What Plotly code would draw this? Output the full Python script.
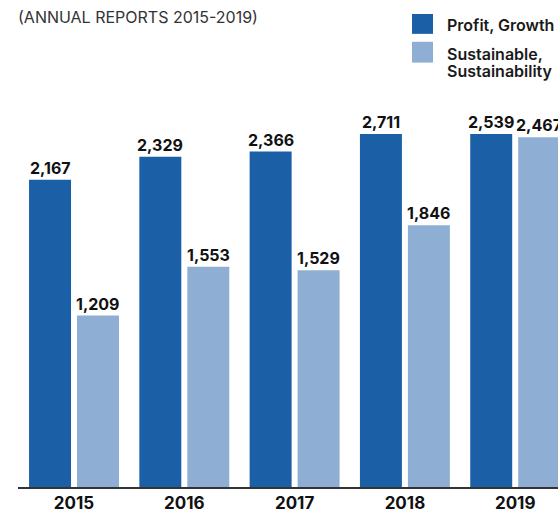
import plotly.graph_objects as go

years = ["2015", "2016", "2017", "2018", "2019"]
profit_growth = [2167, 2329, 2366, 2711, 2539]
sustainable = [1209, 1553, 1529, 1846, 2467]
series_names = ["Profit, Growth", "Sustainable,<br>Sustainability"]
colors = ["#1b60a6", "#8eafd3"]
title_text = "(ANNUAL REPORTS 2015-2019)"

W, H = 558, 513
ML, MR, MT, MB = 18, 0, 134, 23
Y_MAX = 2490
BARGAP = 0.13
FONT = "Inter, 'Open Sans', sans-serif"

PW = W - ML - MR
PH = H - MT - MB


def px_x(p):
    return (p - ML) / PW


def px_y(p):
    return (H - MB - p) / PH


fig = go.Figure()
for vals, name, col in zip([profit_growth, sustainable], series_names, colors):
    fig.add_trace(go.Bar(x=years, y=vals, name=name, marker_color=col,
                         marker_line_width=0, showlegend=False, cliponaxis=True,
                         hoverinfo="skip"))

# value labels (annotations so they remain visible when bars are clipped)
offset = (1 - BARGAP) / 4
annotations = []
for si, vals in enumerate([profit_growth, sustainable]):
    sign = -1 if si == 0 else 1
    for i, v in enumerate(vals):
        annotations.append(dict(
            x=i + sign * offset, y=min(v, Y_MAX), xref="x", yref="y",
            text=f"{v:,}", showarrow=False, yanchor="bottom", xanchor="center",
            yshift=0,
            font=dict(family=FONT, size=16, color="#111111", weight="bold"),
        ))

# legend (custom, larger swatches)
shapes = []
sw_rows = [(13, 33), (41, 62)]
for (t, b), col in zip(sw_rows, colors):
    shapes.append(dict(type="rect", xref="paper", yref="paper",
                       x0=px_x(412), x1=px_x(433), y0=px_y(b), y1=px_y(t),
                       fillcolor=col, line_width=0, layer="above"))
legend_lines = [("Profit, Growth", 24), ("Sustainable,", 53), ("Sustainability", 70)]
for txt, yc in legend_lines:
    annotations.append(dict(
        x=px_x(445), y=px_y(yc), xref="paper", yref="paper", text=txt,
        showarrow=False, xanchor="left", yanchor="middle", align="left",
        font=dict(family=FONT, size=16, color="#1a1a1a", weight=600),
    ))

fig.update_layout(
    width=W, height=H,
    margin=dict(l=ML, r=MR, t=MT, b=MB, pad=0),
    paper_bgcolor="white", plot_bgcolor="white",
    barmode="group", bargap=BARGAP, bargroupgap=0.125,
    title=dict(text=title_text, x=ML / W, xanchor="left", y=1 - 17 / H,
               yanchor="middle",
               font=dict(family=FONT, size=16, color="#333333")),
    annotations=annotations, shapes=shapes,
    xaxis=dict(range=[-0.508, 4.388], showgrid=False, showline=True,
               linecolor="#333333", linewidth=1.5, ticks="", fixedrange=True,
               tickfont=dict(family=FONT, size=17, color="#111111", weight="bold")),
    yaxis=dict(range=[0, Y_MAX], visible=False, showgrid=False, fixedrange=True),
)

fig.write_html("out.html", config={"displayModeBar": False},
               post_script="document.body.style.margin='0';document.body.style.padding='0';")
